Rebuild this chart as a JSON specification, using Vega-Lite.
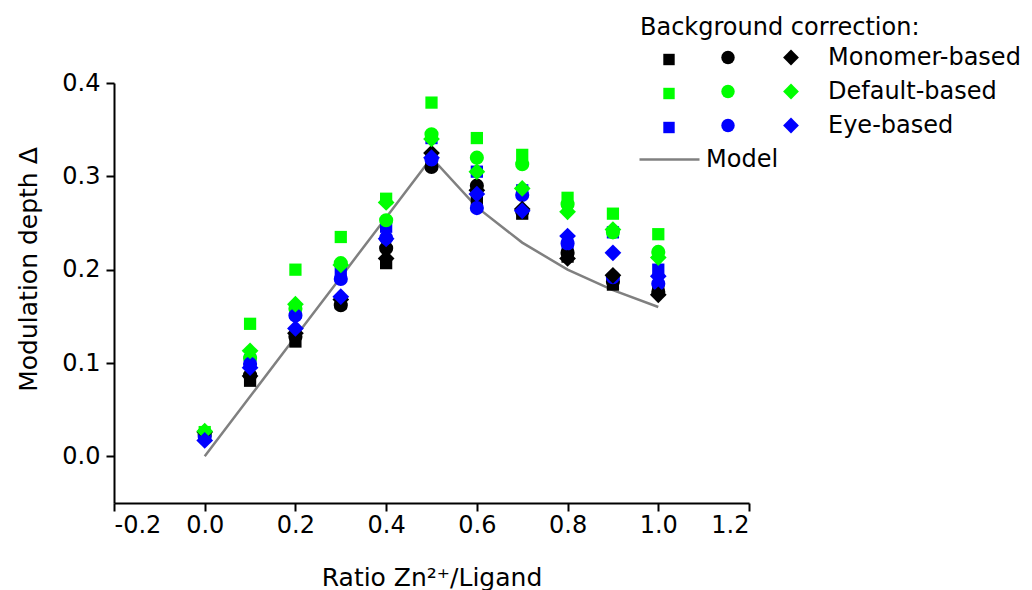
{
  "$schema": "https://vega.github.io/schema/vega-lite/v6.json",
  "width": 635,
  "height": 420,
  "autosize": {"type": "none"},
  "padding": {"left": 114, "top": 83, "right": 283, "bottom": 87},
  "background": "white",
  "config": {
    "view": {"stroke": null},
    "font": "DejaVu Sans",
    "axis": {
      "grid": false,
      "domainColor": "black",
      "domainWidth": 2,
      "tickColor": "black",
      "tickWidth": 2,
      "tickSize": 8,
      "labelFontSize": 24,
      "labelColor": "black",
      "labelFont": "DejaVu Sans",
      "titleFontSize": 25,
      "titleFontWeight": "normal",
      "titleColor": "black",
      "titleFont": "DejaVu Sans"
    },
    "legend": {
      "labelFont": "DejaVu Sans",
      "titleFont": "DejaVu Sans",
      "labelFontSize": 24,
      "labelColor": "black",
      "labelLimit": 400,
      "titleLimit": 400,
      "titleFontSize": 24,
      "titleFontWeight": "normal",
      "titleColor": "black",
      "padding": 0,
      "rowPadding": 10
    }
  },
  "datasets": {
    "points": [
      {"ratio": 0.0, "correction": "Monomer-based", "marker": "square", "delta": 0.022},
      {"ratio": 0.0, "correction": "Monomer-based", "marker": "circle", "delta": 0.023},
      {"ratio": 0.0, "correction": "Monomer-based", "marker": "diamond", "delta": 0.026},
      {"ratio": 0.0, "correction": "Default-based", "marker": "square", "delta": 0.026},
      {"ratio": 0.0, "correction": "Default-based", "marker": "circle", "delta": 0.025},
      {"ratio": 0.0, "correction": "Default-based", "marker": "diamond", "delta": 0.027},
      {"ratio": 0.0, "correction": "Eye-based", "marker": "square", "delta": 0.022},
      {"ratio": 0.0, "correction": "Eye-based", "marker": "circle", "delta": 0.021},
      {"ratio": 0.0, "correction": "Eye-based", "marker": "diamond", "delta": 0.017},

      {"ratio": 0.1, "correction": "Monomer-based", "marker": "square", "delta": 0.081},
      {"ratio": 0.1, "correction": "Monomer-based", "marker": "circle", "delta": 0.087},
      {"ratio": 0.1, "correction": "Monomer-based", "marker": "diamond", "delta": 0.086},
      {"ratio": 0.1, "correction": "Default-based", "marker": "square", "delta": 0.142},
      {"ratio": 0.1, "correction": "Default-based", "marker": "circle", "delta": 0.105},
      {"ratio": 0.1, "correction": "Default-based", "marker": "diamond", "delta": 0.113},
      {"ratio": 0.1, "correction": "Eye-based", "marker": "square", "delta": 0.103},
      {"ratio": 0.1, "correction": "Eye-based", "marker": "circle", "delta": 0.099},
      {"ratio": 0.1, "correction": "Eye-based", "marker": "diamond", "delta": 0.095},

      {"ratio": 0.2, "correction": "Monomer-based", "marker": "square", "delta": 0.123},
      {"ratio": 0.2, "correction": "Monomer-based", "marker": "circle", "delta": 0.128},
      {"ratio": 0.2, "correction": "Monomer-based", "marker": "diamond", "delta": 0.132},
      {"ratio": 0.2, "correction": "Default-based", "marker": "square", "delta": 0.200},
      {"ratio": 0.2, "correction": "Default-based", "marker": "circle", "delta": 0.158},
      {"ratio": 0.2, "correction": "Default-based", "marker": "diamond", "delta": 0.163},
      {"ratio": 0.2, "correction": "Eye-based", "marker": "square", "delta": 0.154},
      {"ratio": 0.2, "correction": "Eye-based", "marker": "circle", "delta": 0.151},
      {"ratio": 0.2, "correction": "Eye-based", "marker": "diamond", "delta": 0.137},

      {"ratio": 0.3, "correction": "Monomer-based", "marker": "square", "delta": 0.164},
      {"ratio": 0.3, "correction": "Monomer-based", "marker": "circle", "delta": 0.162},
      {"ratio": 0.3, "correction": "Monomer-based", "marker": "diamond", "delta": 0.168},
      {"ratio": 0.3, "correction": "Default-based", "marker": "square", "delta": 0.235},
      {"ratio": 0.3, "correction": "Default-based", "marker": "circle", "delta": 0.207},
      {"ratio": 0.3, "correction": "Default-based", "marker": "diamond", "delta": 0.205},
      {"ratio": 0.3, "correction": "Eye-based", "marker": "square", "delta": 0.197},
      {"ratio": 0.3, "correction": "Eye-based", "marker": "circle", "delta": 0.190},
      {"ratio": 0.3, "correction": "Eye-based", "marker": "diamond", "delta": 0.171},

      {"ratio": 0.4, "correction": "Monomer-based", "marker": "square", "delta": 0.207},
      {"ratio": 0.4, "correction": "Monomer-based", "marker": "circle", "delta": 0.223},
      {"ratio": 0.4, "correction": "Monomer-based", "marker": "diamond", "delta": 0.212},
      {"ratio": 0.4, "correction": "Default-based", "marker": "square", "delta": 0.276},
      {"ratio": 0.4, "correction": "Default-based", "marker": "circle", "delta": 0.253},
      {"ratio": 0.4, "correction": "Default-based", "marker": "diamond", "delta": 0.272},
      {"ratio": 0.4, "correction": "Eye-based", "marker": "square", "delta": 0.246},
      {"ratio": 0.4, "correction": "Eye-based", "marker": "circle", "delta": 0.234},
      {"ratio": 0.4, "correction": "Eye-based", "marker": "diamond", "delta": 0.233},

      {"ratio": 0.5, "correction": "Monomer-based", "marker": "square", "delta": 0.316},
      {"ratio": 0.5, "correction": "Monomer-based", "marker": "circle", "delta": 0.310},
      {"ratio": 0.5, "correction": "Monomer-based", "marker": "diamond", "delta": 0.325},
      {"ratio": 0.5, "correction": "Default-based", "marker": "square", "delta": 0.379},
      {"ratio": 0.5, "correction": "Default-based", "marker": "circle", "delta": 0.345},
      {"ratio": 0.5, "correction": "Default-based", "marker": "diamond", "delta": 0.340},
      {"ratio": 0.5, "correction": "Eye-based", "marker": "square", "delta": 0.341},
      {"ratio": 0.5, "correction": "Eye-based", "marker": "circle", "delta": 0.318},
      {"ratio": 0.5, "correction": "Eye-based", "marker": "diamond", "delta": 0.320},

      {"ratio": 0.6, "correction": "Monomer-based", "marker": "square", "delta": 0.275},
      {"ratio": 0.6, "correction": "Monomer-based", "marker": "circle", "delta": 0.290},
      {"ratio": 0.6, "correction": "Monomer-based", "marker": "diamond", "delta": 0.285},
      {"ratio": 0.6, "correction": "Default-based", "marker": "square", "delta": 0.341},
      {"ratio": 0.6, "correction": "Default-based", "marker": "circle", "delta": 0.320},
      {"ratio": 0.6, "correction": "Default-based", "marker": "diamond", "delta": 0.305},
      {"ratio": 0.6, "correction": "Eye-based", "marker": "square", "delta": 0.305},
      {"ratio": 0.6, "correction": "Eye-based", "marker": "circle", "delta": 0.266},
      {"ratio": 0.6, "correction": "Eye-based", "marker": "diamond", "delta": 0.281},

      {"ratio": 0.7, "correction": "Monomer-based", "marker": "square", "delta": 0.260},
      {"ratio": 0.7, "correction": "Monomer-based", "marker": "circle", "delta": 0.262},
      {"ratio": 0.7, "correction": "Monomer-based", "marker": "diamond", "delta": 0.265},
      {"ratio": 0.7, "correction": "Default-based", "marker": "square", "delta": 0.323},
      {"ratio": 0.7, "correction": "Default-based", "marker": "circle", "delta": 0.313},
      {"ratio": 0.7, "correction": "Default-based", "marker": "diamond", "delta": 0.287},
      {"ratio": 0.7, "correction": "Eye-based", "marker": "square", "delta": 0.285},
      {"ratio": 0.7, "correction": "Eye-based", "marker": "circle", "delta": 0.280},
      {"ratio": 0.7, "correction": "Eye-based", "marker": "diamond", "delta": 0.263},

      {"ratio": 0.8, "correction": "Monomer-based", "marker": "square", "delta": 0.214},
      {"ratio": 0.8, "correction": "Monomer-based", "marker": "circle", "delta": 0.218},
      {"ratio": 0.8, "correction": "Monomer-based", "marker": "diamond", "delta": 0.212},
      {"ratio": 0.8, "correction": "Default-based", "marker": "square", "delta": 0.277},
      {"ratio": 0.8, "correction": "Default-based", "marker": "circle", "delta": 0.270},
      {"ratio": 0.8, "correction": "Default-based", "marker": "diamond", "delta": 0.262},
      {"ratio": 0.8, "correction": "Eye-based", "marker": "square", "delta": 0.226},
      {"ratio": 0.8, "correction": "Eye-based", "marker": "circle", "delta": 0.228},
      {"ratio": 0.8, "correction": "Eye-based", "marker": "diamond", "delta": 0.236},

      {"ratio": 0.9, "correction": "Monomer-based", "marker": "square", "delta": 0.184},
      {"ratio": 0.9, "correction": "Monomer-based", "marker": "circle", "delta": 0.187},
      {"ratio": 0.9, "correction": "Monomer-based", "marker": "diamond", "delta": 0.194},
      {"ratio": 0.9, "correction": "Default-based", "marker": "square", "delta": 0.260},
      {"ratio": 0.9, "correction": "Default-based", "marker": "circle", "delta": 0.240},
      {"ratio": 0.9, "correction": "Default-based", "marker": "diamond", "delta": 0.243},
      {"ratio": 0.9, "correction": "Eye-based", "marker": "square", "delta": 0.240},
      {"ratio": 0.9, "correction": "Eye-based", "marker": "circle", "delta": 0.192},
      {"ratio": 0.9, "correction": "Eye-based", "marker": "diamond", "delta": 0.218},

      {"ratio": 1.0, "correction": "Monomer-based", "marker": "square", "delta": 0.180},
      {"ratio": 1.0, "correction": "Monomer-based", "marker": "circle", "delta": 0.176},
      {"ratio": 1.0, "correction": "Monomer-based", "marker": "diamond", "delta": 0.173},
      {"ratio": 1.0, "correction": "Default-based", "marker": "square", "delta": 0.238},
      {"ratio": 1.0, "correction": "Default-based", "marker": "circle", "delta": 0.219},
      {"ratio": 1.0, "correction": "Default-based", "marker": "diamond", "delta": 0.213},
      {"ratio": 1.0, "correction": "Eye-based", "marker": "square", "delta": 0.200},
      {"ratio": 1.0, "correction": "Eye-based", "marker": "circle", "delta": 0.185},
      {"ratio": 1.0, "correction": "Eye-based", "marker": "diamond", "delta": 0.193}
    ],
    "model": [
      {"ratio": 0.0, "delta": 0.0, "series": "Model"},
      {"ratio": 0.1, "delta": 0.064, "series": "Model"},
      {"ratio": 0.2, "delta": 0.128, "series": "Model"},
      {"ratio": 0.3, "delta": 0.192, "series": "Model"},
      {"ratio": 0.4, "delta": 0.256, "series": "Model"},
      {"ratio": 0.5, "delta": 0.32, "series": "Model"},
      {"ratio": 0.6, "delta": 0.267, "series": "Model"},
      {"ratio": 0.7, "delta": 0.229, "series": "Model"},
      {"ratio": 0.8, "delta": 0.2, "series": "Model"},
      {"ratio": 0.9, "delta": 0.178, "series": "Model"},
      {"ratio": 1.0, "delta": 0.16, "series": "Model"}
    ]
  },
  "resolve": {"scale": {"color": "independent"}, "legend": {"color": "independent"}},
  "layer": [
    {
      "data": {"name": "model"},
      "mark": {"type": "line", "strokeWidth": 2.5},
      "encoding": {
        "x": {"field": "ratio", "type": "quantitative", "scale": {"domain": [-0.2, 1.2], "nice": false, "zero": false},
          "axis": {"title": "Ratio Zn²⁺/Ligand", "values": [-0.2, 0, 0.2, 0.4, 0.6, 0.8, 1.0, 1.2],
            "labelExpr": "datum.value < 0 ? '-' + format(-datum.value, '.1f') : format(datum.value, '.1f')",
            "labelPadding": 2, "titlePadding": 28}},
        "y": {"field": "delta", "type": "quantitative", "scale": {"domain": [-0.05, 0.4], "nice": false, "zero": false},
          "axis": {"title": "Modulation depth Δ", "values": [0, 0.1, 0.2, 0.3, 0.4], "format": ".1f",
            "labelPadding": 6, "titlePadding": 20, "titleY": 186}},
        "color": {"field": "series", "type": "nominal",
          "scale": {"domain": ["Model"], "range": ["#808080"]},
          "legend": {"orient": "none", "legendX": 524, "legendY": 45, "title": null,
            "symbolType": "stroke", "symbolSize": 3600, "symbolStrokeWidth": 2.5, "labelOffset": 5}}
      }
    },
    {
      "data": {"name": "points"},
      "transform": [{"filter": "datum.marker === 'square'"}],
      "mark": {"type": "point", "shape": "square", "filled": true, "opacity": 1, "size": 150, "strokeWidth": 0},
      "encoding": {
        "x": {"field": "ratio", "type": "quantitative"},
        "y": {"field": "delta", "type": "quantitative"},
        "color": {"field": "correction", "type": "nominal",
          "scale": {"domain": ["Monomer-based", "Default-based", "Eye-based"], "range": ["#000000", "#00ff00", "#0000ff"]},
          "legend": {"orient": "none", "legendX": 526, "legendY": -67, "title": "Background correction:",
            "titlePadding": 7.5, "symbolType": "square", "symbolSize": 130, "symbolOffset": 17,
            "labelExpr": "''", "labelOffset": 0}}
      }
    },
    {
      "data": {"name": "points"},
      "transform": [{"filter": "datum.marker === 'circle'"}],
      "mark": {"type": "point", "shape": "circle", "filled": true, "opacity": 1, "size": 200, "strokeWidth": 0},
      "encoding": {
        "x": {"field": "ratio", "type": "quantitative"},
        "y": {"field": "delta", "type": "quantitative"},
        "color": {"field": "correction", "type": "nominal",
          "scale": {"domain": ["Monomer-based", "Default-based", "Eye-based"], "range": ["#000000", "#00ff00", "#0000ff"]},
          "legend": {"orient": "none", "legendX": 602, "legendY": -37.5, "title": null,
            "symbolType": "circle", "symbolSize": 180, "labelExpr": "''", "labelOffset": 0}}
      }
    },
    {
      "data": {"name": "points"},
      "transform": [{"filter": "datum.marker === 'diamond'"}],
      "mark": {"type": "point", "shape": "diamond", "filled": true, "opacity": 1, "size": 280, "strokeWidth": 0},
      "encoding": {
        "x": {"field": "ratio", "type": "quantitative"},
        "y": {"field": "delta", "type": "quantitative"},
        "color": {"field": "correction", "type": "nominal",
          "scale": {"domain": ["Monomer-based", "Default-based", "Eye-based"], "range": ["#000000", "#00ff00", "#0000ff"]},
          "legend": {"orient": "none", "legendX": 665, "legendY": -37.5, "title": null,
            "symbolType": "diamond", "symbolSize": 250, "labelOffset": 25}}
      }
    }
  ]
}
